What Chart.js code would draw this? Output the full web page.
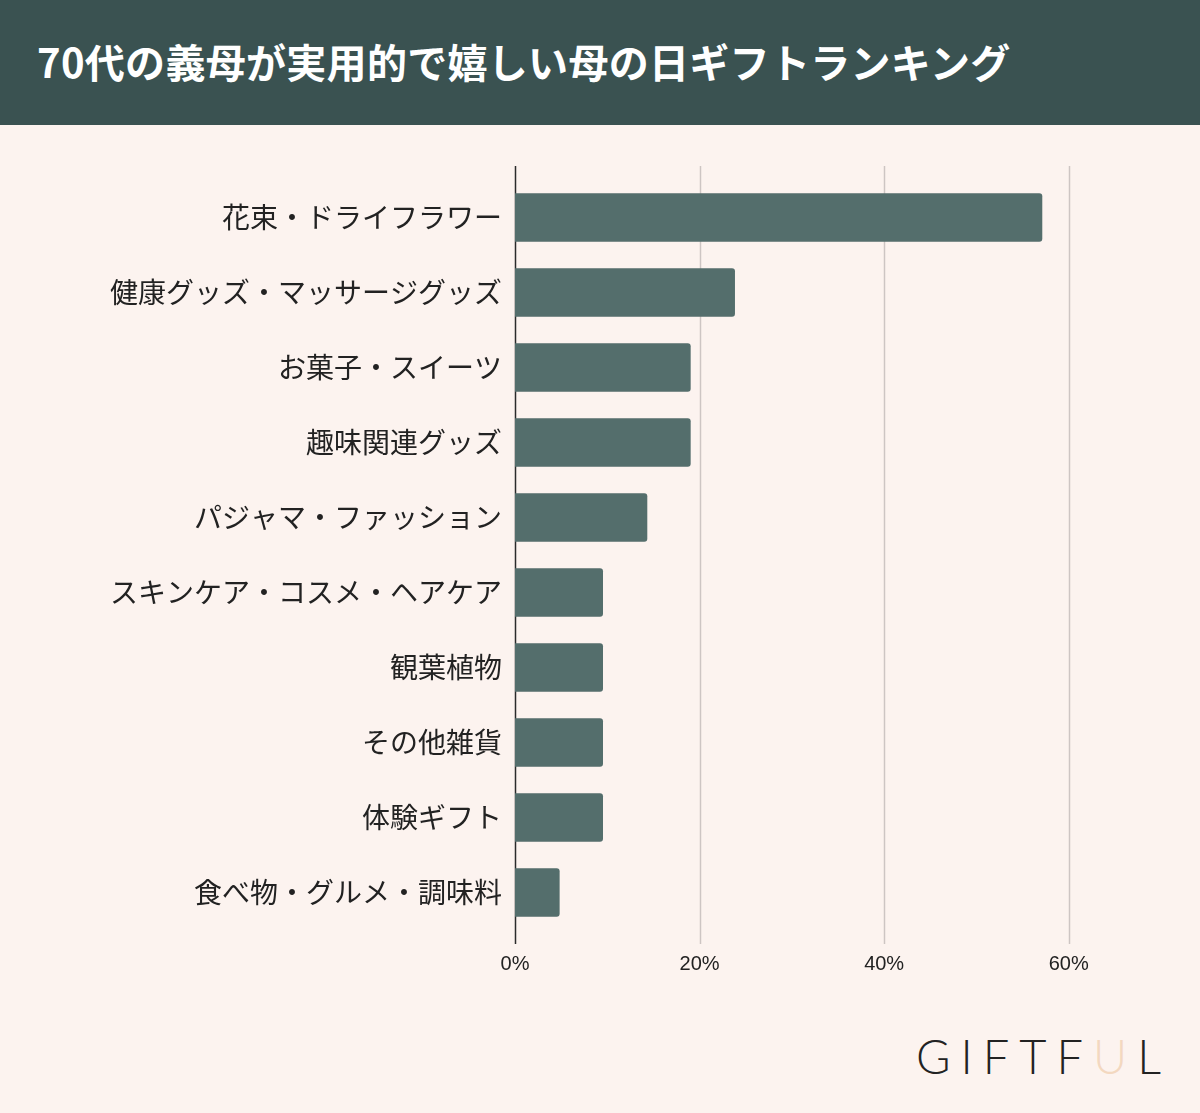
<!DOCTYPE html>
<html lang="ja">
<head>
<meta charset="utf-8">
<script src="https://cdn.jsdelivr.net/npm/chart.js@4.4.1/dist/chart.umd.min.js"></script>
<style>
  html, body { margin: 0; padding: 0; background: #fcf3ef; }
  body { width: 1200px; height: 1113px; position: relative; overflow: hidden; }
  #cabecera {
    position: absolute; left: 0; top: 0; width: 1200px; height: 125px;
    background: #3a5251; color: #fff;
    font-family: 'Noto Sans CJK JP', sans-serif; font-weight: 700; font-size: 40px;
    line-height: 122px; padding-left: 37px; box-sizing: border-box; letter-spacing: 0.3px;
  }
  #contenedor { position: absolute; left: 0; top: 125px; width: 1200px; height: 900px; }
  #logo {
    position: absolute; left: 916px; top: 1028px;
    font-family: 'Lato', sans-serif; font-weight: 300; font-size: 47px;
    letter-spacing: 10px; color: #222;
  }
  #logo span { color: #f3d8c0; }
</style>
</head>
<body>
<div id="cabecera">70代の義母が実用的で嬉しい母の日ギフトランキング</div>
<div id="contenedor"><canvas id="regalos"></canvas></div>
<div id="logo">GIFTF<span>U</span>L</div>
<script>
const categorias = [
  '花束・ドライフラワー',
  '健康グッズ・マッサージグッズ',
  'お菓子・スイーツ',
  '趣味関連グッズ',
  'パジャマ・ファッション',
  'スキンケア・コスメ・ヘアケア',
  '観葉植物',
  'その他雑貨',
  '体験ギフト',
  '食べ物・グルメ・調味料'
];
const porcentajes = [57.1, 23.8, 19.0, 19.0, 14.3, 9.5, 9.5, 9.5, 9.5, 4.8];
const marcasX = [0, 20, 40, 60];

// cuadricula y eje dibujados un poco mas largos que el area del grafico
const lineasExtendidas = {
  id: 'lineasExtendidas',
  beforeDatasetsDraw(chart) {
    const { ctx, chartArea, scales } = chart;
    const arriba = chartArea.top - 14;
    const abajo = chartArea.bottom + 14;
    ctx.save();
    ctx.lineWidth = 1.5;
    ctx.strokeStyle = '#cdc5c3';
    marcasX.slice(1).forEach((v) => {
      const x = Math.round(scales.x.getPixelForValue(v)) + 0.5;
      ctx.beginPath();
      ctx.moveTo(x, arriba);
      ctx.lineTo(x, abajo);
      ctx.stroke();
    });
    ctx.strokeStyle = '#2b2b2b';
    const x0 = Math.round(scales.x.getPixelForValue(0)) + 0.5;
    ctx.beginPath();
    ctx.moveTo(x0, arriba);
    ctx.lineTo(x0, abajo);
    ctx.stroke();
    ctx.restore();
  }
};

new Chart(document.getElementById('regalos'), {
  type: 'bar',
  data: {
    labels: categorias,
    datasets: [{
      data: porcentajes,
      backgroundColor: '#546e6c',
      borderRadius: 3,
      borderSkipped: 'start',
      barThickness: 48
    }]
  },
  options: {
    indexAxis: 'y',
    responsive: true,
    maintainAspectRatio: false,
    animation: false,
    layout: {
      padding: { top: 55, right: 39, bottom: 35, left: 0 }
    },
    plugins: {
      legend: { display: false },
      tooltip: { enabled: false }
    },
    scales: {
      x: {
        min: 0,
        max: 70,
        grid: { display: false },
        border: { display: false },
        afterBuildTicks: (escala) => {
          escala.ticks = marcasX.map((v) => ({ value: v }));
        },
        afterFit: (escala) => { escala.height = 60; },
        ticks: {
          padding: 14,
          color: '#222',
          font: { size: 20, family: "'Liberation Sans', sans-serif" },
          callback: (v) => `${v}%`
        }
      },
      y: {
        grid: { display: false },
        border: { display: false },
        afterFit: (escala) => { escala.width = 515; },
        ticks: {
          padding: 5,
          color: '#222',
          font: { size: 28, family: "'Noto Sans CJK JP', sans-serif" }
        }
      }
    }
  },
  plugins: [lineasExtendidas]
});
</script>
</body>
</html>
